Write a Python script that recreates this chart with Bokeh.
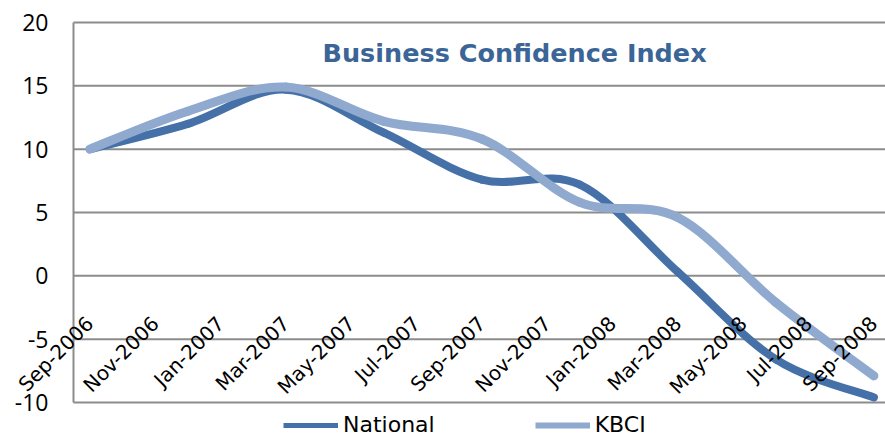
import pandas as pd
from bokeh.plotting import figure
from bokeh.models import Range1d, Legend, LegendItem, Label, ColumnDataSource
from bokeh.core.properties import value
from bokeh.embed import file_html
from bokeh.resources import INLINE
import math

# ---- data ----
quarters = ["Sep-2006", "Dec-2006", "Mar-2007", "Jun-2007", "Sep-2007",
            "Dec-2007", "Mar-2008", "Jun-2008", "Sep-2008"]
national = [10.0, 12.0, 14.7, 11.3, 7.6, 7.2, 0.3, -6.6, -9.6]
kbci = [10.0, 13.0, 14.9, 12.2, 10.8, 5.8, 4.6, -2.1, -7.9]
tick_labels = ["Sep-2006", "Nov-2006", "Jan-2007", "Mar-2007", "May-2007",
               "Jul-2007", "Sep-2007", "Nov-2007", "Jan-2008", "Mar-2008",
               "May-2008", "Jul-2008", "Sep-2008"]
y_ticks = [-10, -5, 0, 5, 10, 15, 20]
title_text = "Business Confidence Index"
series_names = ["National", "KBCI"]

NAT_COLOR = "#4571A8"
KBCI_COLOR = "#8FA9CF"
GRID_COLOR = "#8C8C8C"

# ---- layout (pixels) ----
W, H = 885, 436
PLOT_L, PLOT_T, PLOT_B = 73, 22, 402


def month_index(labels, origin):
    d = pd.to_datetime(labels, format="%b-%Y")
    o = pd.to_datetime(origin, format="%b-%Y")
    return [int((t.year - o.year) * 12 + (t.month - o.month)) for t in d]


qx = month_index(quarters, tick_labels[0])
tx = month_index(tick_labels, tick_labels[0])

# scales: category slot -0.5 at the left of the plot area
px_per_month = 32.67
x_left = -0.5
x_start = x_left - PLOT_L / px_per_month
x_end = x_left + (W - PLOT_L) / px_per_month
y_lo, y_hi = min(y_ticks), max(y_ticks)
px_per_unit = (PLOT_B - PLOT_T) / (y_hi - y_lo)
y_start = y_lo - (H - PLOT_B) / px_per_unit
y_end = y_hi + PLOT_T / px_per_unit


def smooth_segments(xs, ys):
    """Catmull-Rom style cubic Bezier segments (like Excel smoothing)."""
    n = len(xs)
    seg = dict(x0=[], y0=[], x1=[], y1=[], cx0=[], cy0=[], cx1=[], cy1=[])
    for i in range(n - 1):
        p0 = (xs[max(i - 1, 0)], ys[max(i - 1, 0)])
        p1 = (xs[i], ys[i])
        p2 = (xs[i + 1], ys[i + 1])
        p3 = (xs[min(i + 2, n - 1)], ys[min(i + 2, n - 1)])
        seg["x0"].append(float(p1[0])); seg["y0"].append(float(p1[1]))
        seg["x1"].append(float(p2[0])); seg["y1"].append(float(p2[1]))
        seg["cx0"].append(p1[0] + (p2[0] - p0[0]) / 6.0)
        seg["cy0"].append(p1[1] + (p2[1] - p0[1]) / 6.0)
        seg["cx1"].append(p2[0] - (p3[0] - p1[0]) / 6.0)
        seg["cy1"].append(p2[1] - (p3[1] - p1[1]) / 6.0)
    return ColumnDataSource(seg)


p = figure(width=W, height=H, output_backend="svg", toolbar_location=None,
           x_range=Range1d(x_start, x_end), y_range=Range1d(y_start, y_end),
           x_axis_location=None, y_axis_location=None,
           min_border=0)
p.outline_line_color = None
p.background_fill_color = "white"
p.xgrid.visible = False
p.ygrid.visible = False

# horizontal gridlines and value axis line
p.segment(x0=[x_left] * len(y_ticks), x1=[x_end] * len(y_ticks),
          y0=y_ticks, y1=y_ticks, line_color=GRID_COLOR, line_width=2)
p.segment(x0=[x_left], x1=[x_left], y0=[y_lo], y1=[y_hi],
          line_color=GRID_COLOR, line_width=2)

# value tick labels
ysrc = ColumnDataSource(dict(x=[x_left] * len(y_ticks), y=y_ticks,
                             text=[str(t) for t in y_ticks]))
p.text(x="x", y="y", text="text", source=ysrc, x_offset=-25,
       text_align="right", text_baseline="middle",
       text_font=value("Open Sans"), text_font_size="23px",
       text_color="#000000")

# lines (smoothed)
r_nat = p.bezier(x0="x0", y0="y0", x1="x1", y1="y1", cx0="cx0", cy0="cy0",
                 cx1="cx1", cy1="cy1", source=smooth_segments(qx, national),
                 line_color=NAT_COLOR, line_width=8, line_cap="round")
r_kb = p.bezier(x0="x0", y0="y0", x1="x1", y1="y1", cx0="cx0", cy0="cy0",
                cx1="cx1", cy1="cy1", source=smooth_segments(qx, kbci),
                line_color=KBCI_COLOR, line_width=9, line_cap="round")

# rotated category labels drawn inside the plot area
lab_src = ColumnDataSource(dict(x=[float(v) for v in tx], y=[-3.5] * len(tx),
                                text=tick_labels))
p.text(x="x", y="y", text="text", source=lab_src, angle=math.pi / 4,
       text_align="right", text_baseline="middle",
       text_font=value("DejaVu Sans"), text_font_size="20px",
       text_color="#000000")

# title inside plot
p.add_layout(Label(x=13, y=17.6, text=title_text, text_align="center",
                   text_baseline="middle", text_font="DejaVu Sans",
                   text_font_style="bold", text_font_size="25.5px",
                   text_color="#3B6596"))

# legend sample lines (thinner than the plotted lines)
leg_nat = p.line(x=[qx[0]], y=[national[0]], line_color=NAT_COLOR, line_width=5)
leg_kb = p.line(x=[qx[0]], y=[kbci[0]], line_color=KBCI_COLOR, line_width=6)
legend = Legend(items=[LegendItem(label=series_names[0], renderers=[leg_nat]),
                       LegendItem(label=series_names[1], renderers=[leg_kb])],
                orientation="horizontal", location=(283, -1),
                label_text_font="DejaVu Sans", label_text_font_size="22px",
                label_text_color="#000000", glyph_width=55, glyph_height=22,
                label_height=22, label_standoff=5, spacing=100, padding=2,
                margin=0, border_line_color=None, background_fill_alpha=0)
p.add_layout(legend)

open("out.html", "w").write(file_html(p, INLINE))
